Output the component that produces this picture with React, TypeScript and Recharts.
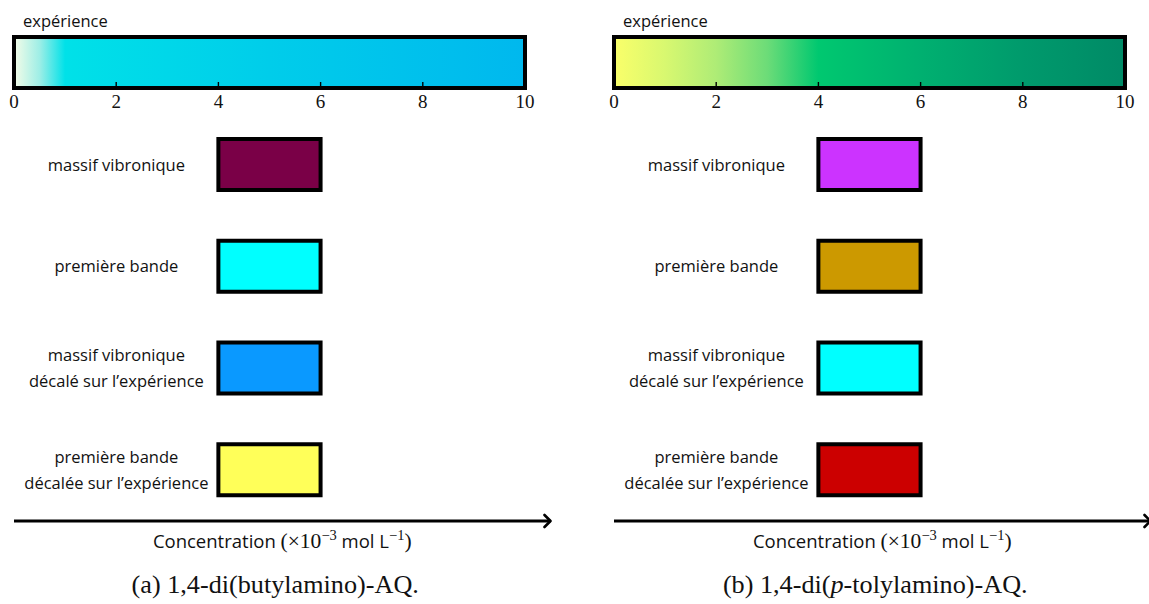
import React from 'react';
import { BarChart, Bar, XAxis, YAxis, LabelList, Cell } from 'recharts';

// concentration axis (x 10^-3 mol/L)
const TICKS = [0, 2, 4, 6, 8, 10];
const EXP_NAME = 'expérience';
const EXP_RANGE: [number, number] = [0, 10];
const ROW_LABELS = [
  'massif vibronique',
  'première bande',
  'massif vibronique\ndécalé sur l’expérience',
  'première bande\ndécalée sur l’expérience',
];
const ROW_RANGES_A: [number, number][] = [[4, 6], [4, 6], [4, 6], [4, 6]];
const ROW_RANGES_B: [number, number][] = [[4, 6], [4, 6], [4, 6], [4, 6]];
const ROW_COLORS_A = ['#7a0047', '#00ffff', '#0a99ff', '#ffff59'];
const ROW_COLORS_B = ['#cc33ff', '#cc9900', '#00ffff', '#cc0000'];
const GRAD_A: [number, string][] = [[0, '#f5fce8'], [0.05, '#9eeee6'], [0.1, '#00e1e8'], [0.5, '#00cdea'], [1, '#00b8ee']];
const GRAD_B: [number, string][] = [[0, '#faff6a'], [0.1, '#d8f870'], [0.2, '#aeec76'], [0.3, '#6cdc78'], [0.4, '#00c870'], [0.6, '#00b070'], [0.8, '#009a6c'], [1, '#008a66']];

const SANS = '"Open Sans", "DejaVu Sans", sans-serif';
const SERIF = '"Liberation Serif", "DejaVu Serif", serif';
const SANS_SIZE = 16.5;
const INK = '#111';

let ctx: CanvasRenderingContext2D | null = null;
const textWidth = (s: string) => {
  if (!ctx) ctx = document.createElement('canvas').getContext('2d');
  if (!ctx) return s.length * 8;
  ctx.font = `${SANS_SIZE}px "Open Sans"`;
  return ctx.measureText(s).width;
};

const box = (p: any) => {
  const v = p.viewBox && p.viewBox.width !== undefined ? p.viewBox : p;
  return { x: Number(v.x), y: Number(v.y), width: Number(v.width), height: Number(v.height) };
};

const ExpTick = (p: any) => {
  const { x, y, payload } = p;
  const v = payload.value;
  return (
    <g>
      {v > 0 && v < 10 && <line x1={x} x2={x} y1={y} y2={y - 6} stroke="#000" strokeWidth={1.4} />}
      <text x={x} y={y + 19.5} textAnchor="middle" fontFamily={SERIF} fontSize={19} fill={INK}>{v}</text>
    </g>
  );
};

const ExpLabel = (p: any) => {
  const b = box(p);
  return (
    <text x={b.x + 9} y={b.y - 10} fontFamily={SANS} fontSize={SANS_SIZE} fill={INK}>{p.value}</text>
  );
};

const RowLabel = (p: any) => {
  const b = box(p);
  const lines = String(p.value).split('\n');
  const right = b.x - 6;
  const cx = b.x - 102;
  const cy = b.y + b.height / 2;
  return (
    <g>
      {lines.map((ln, i) => {
        const w = textWidth(ln);
        const left = Math.min(cx - w / 2, right - w);
        return (
          <text key={i} x={left} y={cy + (i - (lines.length - 1) / 2) * 26 - 0.5} dominantBaseline="central"
            fontFamily={SANS} fontSize={SANS_SIZE} fill={INK}>{ln}</text>
        );
      })}
    </g>
  );
};

const AxisTitle = (p: any, caption: React.ReactNode) => {
  const b = box(p);
  const cx = b.x + b.width / 2;
  return (
    <g>
      <text x={cx} y={b.y + 27} textAnchor="middle" fontFamily={SANS} fontSize={18.5} fill={INK}>
        <tspan>Concentration </tspan>
        <tspan fontFamily={SERIF} fontSize={21.5}>(×10</tspan>
        <tspan fontFamily={SERIF} fontSize={14.5} dy={-8}>−3</tspan>
        <tspan dy={8}> mol L</tspan>
        <tspan fontFamily={SERIF} fontSize={14.5} dy={-8}>−1</tspan>
        <tspan fontFamily={SERIF} fontSize={21.5} dy={8}>)</tspan>
      </text>
      <text x={cx - 7} y={b.y + 72} textAnchor="middle" fontFamily={SERIF} fontSize={26.2} fill={INK}>{caption}</text>
    </g>
  );
};

const Panel = ({ id, left, grad, ranges, colors, caption }: any) => {
  const expData = [{ name: EXP_NAME, range: EXP_RANGE }];
  const rows = ROW_LABELS.map((l, i) => ({ name: l, range: ranges[i] }));
  return (
    <div style={{ position: 'absolute', left, top: 0, width: 580, height: 604 }}>
      <div style={{ position: 'absolute', left: 0, top: 0 }}>
        <BarChart width={580} height={604} layout="vertical" data={rows}
          margin={{ top: 114, right: 29.5, bottom: 7, left: 14 }}>
          <defs>
            <marker id={`arrow${id}`} markerUnits="userSpaceOnUse" markerWidth={14} markerHeight={16}
              refX={8} refY={8} orient="auto">
              <path d="M2,2 L8,8 L2,14" fill="none" stroke="#000" strokeWidth={2.6} strokeLinecap="round" strokeLinejoin="round" />
            </marker>
          </defs>
          <XAxis type="number" domain={[0, 10.5]} ticks={[]} tick={false} tickLine={false} height={76}
            axisLine={{ stroke: '#000', strokeWidth: 3, markerEnd: `url(#arrow${id})` }}
            label={(p: any) => AxisTitle(p, caption)} />
          <YAxis type="category" dataKey="name" hide width={0} />
          <Bar dataKey="range" barSize={51} stroke="#000" strokeWidth={4} isAnimationActive={false}>
            {rows.map((r, i) => <Cell key={r.name} fill={colors[i]} />)}
            <LabelList dataKey="name" content={RowLabel} />
          </Bar>
        </BarChart>
      </div>
      <div style={{ position: 'absolute', left: 0, top: 0 }}>
        <BarChart width={580} height={112} layout="vertical" data={expData} barCategoryGap={0}
          margin={{ top: 37, right: 55, bottom: 4, left: 14 }}>
          <defs>
            <linearGradient id={`grad${id}`} x1="0" y1="0" x2="1" y2="0">
              {grad.map(([o, c]: [number, string]) => <stop key={o} offset={o} stopColor={c} />)}
            </linearGradient>
          </defs>
          <XAxis type="number" domain={[0, 10]} ticks={TICKS} interval={0} axisLine={false} tickLine={false}
            tickSize={0} tickMargin={0} height={20} tick={<ExpTick />} />
          <YAxis type="category" dataKey="name" hide width={0} />
          <Bar dataKey="range" fill={`url(#grad${id})`} stroke="#000" strokeWidth={4} isAnimationActive={false}>
            <LabelList dataKey="name" content={ExpLabel} />
          </Bar>
        </BarChart>
      </div>
    </div>
  );
};

export default function App() {
  return (
    <div style={{ position: 'absolute', left: 0, top: 0, width: 1149, height: 604, overflow: 'hidden', background: '#fff' }}>
      <Panel id="A" left={0} grad={GRAD_A} ranges={ROW_RANGES_A} colors={ROW_COLORS_A}
        caption="(a) 1,4-di(butylamino)-AQ." />
      <Panel id="B" left={600} grad={GRAD_B} ranges={ROW_RANGES_B} colors={ROW_COLORS_B}
        caption={<><tspan>(b) 1,4-di(</tspan><tspan fontStyle="italic">p</tspan><tspan>-tolylamino)-AQ.</tspan></>} />
    </div>
  );
}
